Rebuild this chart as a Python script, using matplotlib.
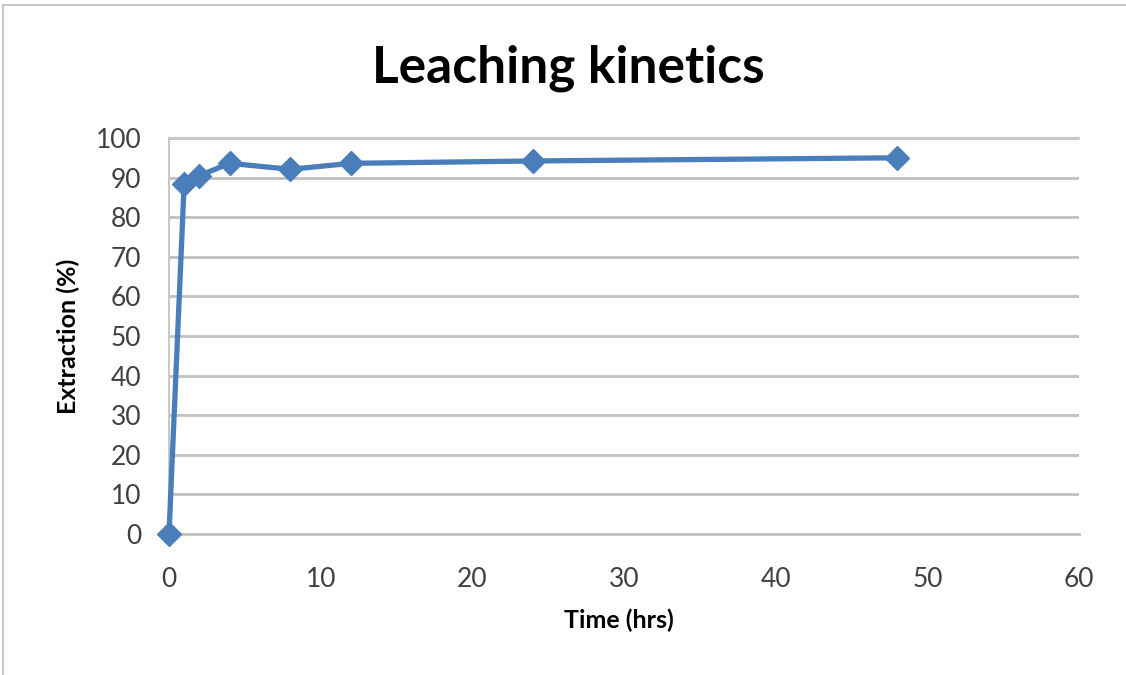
import matplotlib
matplotlib.use("Agg")
import matplotlib.pyplot as plt

plt.rcParams['font.family'] = ['Lato', 'DejaVu Sans']

# leaching time (hrs) and metal extraction (%)
time_hrs = [0, 1, 2, 4, 8, 12, 24, 48]
extraction = [0, 88.5, 90.5, 93.6, 92.1, 93.6, 94.2, 95.0]

x_ticks = [0, 10, 20, 30, 40, 50, 60]
y_ticks = [0, 10, 20, 30, 40, 50, 60, 70, 80, 90, 100]

W, H = 1126, 675
fig = plt.figure(figsize=(W / 100, H / 100), dpi=100)
ax = fig.add_axes([169 / W, 1 - 534 / H, (1079 - 169) / W, (534 - 138) / H])

ax.plot(time_hrs, extraction, color='#4A7EBB', lw=3.8, marker='D',
        markersize=12, markeredgecolor='#4A7EBB', clip_on=False, zorder=3)

ax.set_xlim(0, 60)
ax.set_ylim(0, 100)
ax.set_xticks(x_ticks)
ax.set_yticks(y_ticks)
ax.grid(True, axis='y', color='#C0C0C0', lw=2)
ax.set_axisbelow(True)
ax.tick_params(length=0, labelsize=19, labelcolor='#404040')
ax.tick_params(axis='x', pad=24)
ax.tick_params(axis='y', pad=20)

for side in ['left', 'top']:
    ax.spines[side].set_color('#C8C8C8')
    ax.spines[side].set_linewidth(1.5)
ax.spines['right'].set_visible(False)
ax.spines['bottom'].set_color('#C0C0C0')
ax.spines['bottom'].set_linewidth(2)

ax.set_xlabel('Time (hrs)', fontsize=18, fontweight='bold')
ax.set_ylabel('Extraction (%)', fontsize=18, fontweight='bold')
ax.xaxis.set_label_coords(0.5 - 5 / 910, -(620 - 534) / 396, transform=ax.transAxes)
ax.yaxis.set_label_coords(-(169 - 68) / 910, 0.5, transform=ax.transAxes)
for lbl in (ax.xaxis.label, ax.yaxis.label):
    lbl.set_va('center')

fig.text(568 / W, 1 - 68 / H, 'Leaching kinetics', fontsize=37,
         fontweight='bold', ha='center', va='center')

# light frame around the chart
fig.add_artist(plt.Line2D([3 / W, 3 / W], [0, 1 - 5 / H], color='#C8C8C8',
                          lw=1.5))
fig.add_artist(plt.Line2D([3 / W, 1], [1 - 5 / H, 1 - 5 / H],
                          color='#C8C8C8', lw=1.5))

fig.savefig('out.png', dpi=100)
